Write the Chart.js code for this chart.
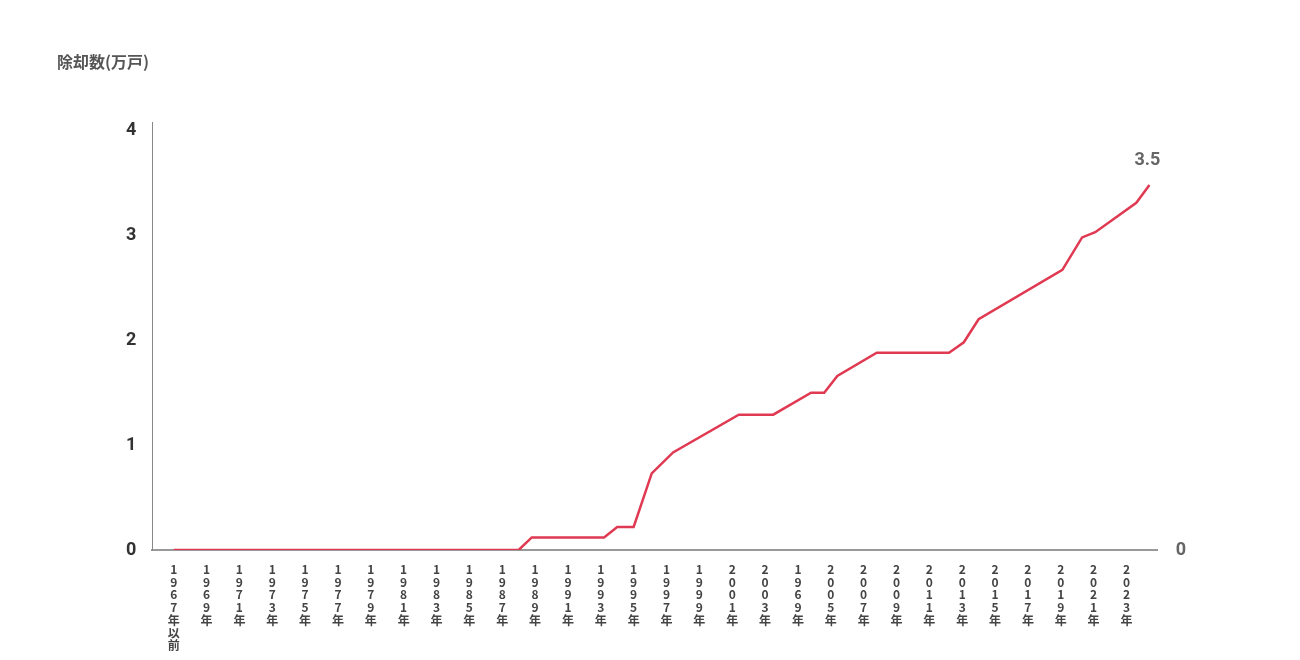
<!DOCTYPE html>
<html>
<head>
<meta charset="utf-8">
<script src="https://cdn.jsdelivr.net/npm/chart.js@4"></script>
<style>
  html, body { margin: 0; padding: 0; background: #fff; }
  #wrap { width: 1300px; height: 660px; }
</style>
</head>
<body>
<div id="wrap"><canvas id="chart"></canvas></div>
<script>
// x tick labels (every other slot, as printed in the source)
const tickYears = [1967, 1969, 1971, 1973, 1975, 1977, 1979, 1981, 1983, 1985,
  1987, 1989, 1991, 1993, 1995, 1997, 1999, 2001, 2003, 2005,
  2007, 2009, 2011, 2013, 2015, 2017, 2019, 2021, 2023, 2025];
const tickLabels = ["1967年以前", "1969年", "1971年", "1973年", "1975年", "1977年", "1979年", "1981年", "1983年", "1985年",
  "1987年", "1989年", "1991年", "1993年", "1995年", "1997年", "1999年", "2001年", "2003年", "1969年",
  "2005年", "2007年", "2009年", "2011年", "2013年", "2015年", "2017年", "2019年", "2021年", "2023年"];

// line vertices (x = position along the tick axis, y in 万戸)
const years = [1967, 1988.0, 1988.8, 1993.2, 1994.0, 1995.0, 1996.1, 1997.4, 2001.4, 2003.5,
  2005.8, 2006.6, 2007.4, 2009.8, 2014.2, 2015.1, 2016.0, 2021.1, 2022.3, 2023.1, 2025.6, 2026.4];
const values = [0, 0, 0.12, 0.12, 0.22, 0.22, 0.73, 0.93, 1.29, 1.29,
  1.50, 1.50, 1.66, 1.88, 1.88, 1.98, 2.20, 2.67, 2.98, 3.03, 3.31, 3.48];
const yTicks = [0, 1, 2, 3, 4];

const lineColor = "#e03a52";

const headerPlugin = {
  id: "header",
  afterDraw(chart) {
    const ctx = chart.ctx;
    ctx.save();
    ctx.fillStyle = "#555";
    ctx.font = 'bold 16px "Noto Sans CJK JP", sans-serif';
    ctx.textBaseline = "middle";
    ctx.textAlign = "left";
    ctx.fillText("除却数(万戸)", 57, 62);

    // value label at the end of the line
    const meta = chart.getDatasetMeta(0);
    const last = meta.data[meta.data.length - 1];
    ctx.fillStyle = "#666";
    ctx.font = 'bold 18px Roboto, sans-serif';
    ctx.textAlign = "center";
    ctx.fillText(values[values.length - 1].toFixed(1), last.x - 2, last.y - 24);
    ctx.restore();
  }
};

const ctx = document.getElementById("chart").getContext("2d");
const chart = new Chart(ctx, {
  type: "line",
  data: {
    datasets: [{
      data: years.map((y, i) => ({ x: y, y: values[i] })),
      borderColor: lineColor,
      borderWidth: 2.5,
      pointRadius: 0,
      tension: 0,
      fill: false
    }]
  },
  options: {
    responsive: true,
    maintainAspectRatio: false,
    animation: false,
    layout: { padding: { left: 110, right: 96, top: 122, bottom: 0 } },
    plugins: {
      legend: { display: false },
      tooltip: { enabled: false }
    },
    scales: {
      x: {
        type: "linear",
        min: 1965.7,
        max: 2026.9,
        afterBuildTicks(axis) {
          axis.ticks = tickYears.map(v => ({ value: v }));
        },
        afterFit(axis) {
          axis.height = 110;
        },
        grid: { display: false, drawTicks: false },
        border: { display: true, color: "#999", width: 2 },
        ticks: {
          autoSkip: false,
          maxRotation: 0,
          minRotation: 0,
          padding: 13,
          color: "#444",
          font: { family: '"Noto Sans CJK JP", sans-serif', size: 12, weight: "bold", lineHeight: 1.06 },
          callback(value) {
            const i = tickYears.indexOf(value);
            return i >= 0 ? tickLabels[i].split("") : "";
          }
        }
      },
      y: {
        min: 0,
        max: 4.08,
        afterBuildTicks(axis) {
          axis.ticks = yTicks.map(v => ({ value: v }));
        },
        grid: { display: false, drawTicks: false },
        border: { display: true, color: "#888", width: 1 },
        ticks: {
          padding: 16,
          color: "#333",
          font: { family: 'Roboto, sans-serif', size: 18, weight: "bold" }
        }
      },
      yRight: {
        position: "right",
        min: 0,
        max: 4.08,
        afterBuildTicks(axis) {
          axis.ticks = [{ value: 0 }];
        },
        grid: { display: false, drawTicks: false },
        border: { display: false },
        ticks: {
          padding: 18,
          color: "#666",
          font: { family: 'Roboto, sans-serif', size: 18, weight: "bold" }
        }
      }
    }
  },
  plugins: [headerPlugin]
});
</script>
</body>
</html>
